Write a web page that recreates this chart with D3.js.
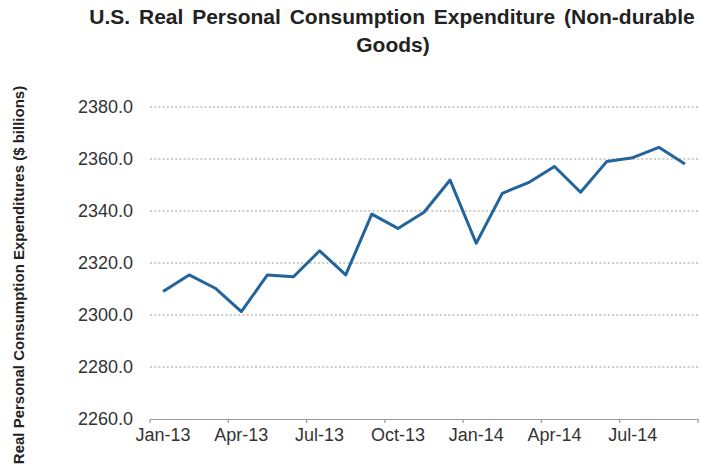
<!DOCTYPE html>
<html>
<head>
<meta charset="utf-8">
<script src="https://cdn.jsdelivr.net/npm/d3@7"></script>
<style>
    body { margin: 0; background: #fff; }
    svg { display: block; font-family: Arial, "Liberation Sans", sans-serif; }
</style>
</head>
<body>
<div id="chart"></div>
<script>
// Real PCE, non-durable goods, monthly, $ billions
const months = ['Jan-13', 'Feb-13', 'Mar-13', 'Apr-13', 'May-13', 'Jun-13', 'Jul-13',
    'Aug-13', 'Sep-13', 'Oct-13', 'Nov-13', 'Dec-13', 'Jan-14', 'Feb-14', 'Mar-14',
    'Apr-14', 'May-14', 'Jun-14', 'Jul-14', 'Aug-14', 'Sep-14'];
const values = [2309.0, 2315.4, 2310.3, 2301.3, 2315.4, 2314.7, 2324.7,
    2315.4, 2338.8, 2333.3, 2339.5, 2351.9, 2327.6, 2346.8, 2350.9,
    2357.1, 2347.2, 2359.0, 2360.5, 2364.5, 2358.1];
const yTicks = [2260, 2280, 2300, 2320, 2340, 2360, 2380];

const width = 701;
const height = 471;
const margin = { top: 107, right: 3, bottom: 52, left: 150 };

const svg = d3.select('#chart')
    .append('svg')
    .attr('width', width)
    .attr('height', height);

// Scales
const x = d3.scaleBand()
    .domain(months)
    .range([margin.left, width - margin.right]);

const y = d3.scaleLinear()
    .domain([2260, 2380])
    .range([height - margin.bottom, margin.top]);

// Gridlines
svg.append('g')
    .selectAll('line')
    .data(yTicks.slice(1))
    .enter()
    .append('line')
    .attr('x1', x.range()[0])
    .attr('x2', x.range()[1])
    .attr('y1', d => y(d))
    .attr('y2', d => y(d))
    .attr('stroke', '#bcbcbc')
    .attr('stroke-width', 1.5)
    .attr('stroke-dasharray', '2,2.2');

// Y axis labels
const yAxis = d3.axisLeft(y)
    .tickValues(yTicks)
    .tickFormat(d3.format('.1f'))
    .tickSize(0)
    .tickPadding(17);

svg.append('g')
    .attr('transform', `translate(${margin.left},0)`)
    .call(yAxis)
    .call(g => g.select('.domain').remove())
    .selectAll('text')
    .attr('fill', '#333')
    .style('font-size', '18px');

// X axis: labels at every third month, ticks on category boundaries
const xAxis = d3.axisBottom(x)
    .tickValues(months.filter((d, i) => i % 3 === 0))
    .tickSize(0)
    .tickPadding(9);

const xg = svg.append('g')
    .attr('transform', `translate(0,${y(2260)})`)
    .call(xAxis);

xg.select('.domain')
    .attr('stroke', '#999')
    .attr('stroke-width', 1.2);

xg.selectAll('text')
    .attr('fill', '#333')
    .style('font-size', '18px');

const bounds = d3.range(0, months.length + 1, 3)
    .map(i => x.range()[0] + i * x.step());

xg.selectAll('.bound')
    .data(bounds)
    .enter()
    .append('line')
    .attr('class', 'bound')
    .attr('x1', d => d)
    .attr('x2', d => d)
    .attr('y1', 0)
    .attr('y2', 4)
    .attr('stroke', '#999')
    .attr('stroke-width', 1.2);

// Line
const line = d3.line()
    .x((d, i) => x(months[i]) + x.bandwidth() / 2)
    .y(d => y(d));

svg.append('path')
    .datum(values)
    .attr('fill', 'none')
    .attr('stroke', '#23649a')
    .attr('stroke-width', 3)
    .attr('stroke-linejoin', 'round')
    .attr('d', line);

// Title
const title = svg.append('text')
    .attr('text-anchor', 'middle')
    .attr('fill', '#222')
    .style('font-size', '21px')
    .style('font-weight', 'bold')
    .style('word-spacing', '3px');

title.append('tspan')
    .attr('x', 392)
    .attr('y', 24)
    .text('U.S. Real Personal Consumption Expenditure (Non-durable');

title.append('tspan')
    .attr('x', 393)
    .attr('y', 52)
    .text('Goods)');

// Y axis title
svg.append('text')
    .attr('transform', 'rotate(-90)')
    .attr('x', -275)
    .attr('y', 24)
    .attr('text-anchor', 'middle')
    .attr('fill', '#222')
    .style('font-size', '15px')
    .style('font-weight', 'bold')
    .text('Real Personal Consumption Expenditures ($ billions)');
</script>
</body>
</html>
